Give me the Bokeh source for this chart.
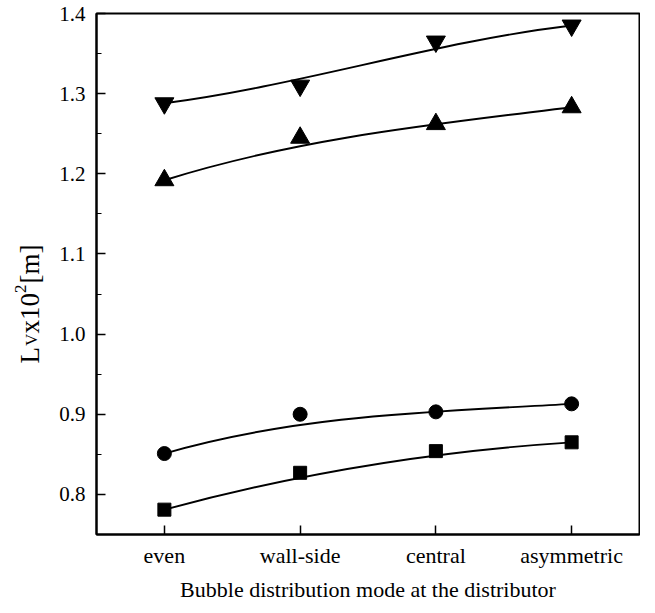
from bokeh.plotting import figure
from bokeh.models import FixedTicker, Range1d, PrintfTickFormatter
from bokeh.layouts import row
from bokeh.core.properties import value
from bokeh.embed import file_html
from bokeh.resources import INLINE
import math

categories = ["even", "wall-side", "central", "asymmetric"]
positions = [1, 2, 3, 4]
squares = [0.781, 0.827, 0.854, 0.865]
circles = [0.851, 0.900, 0.903, 0.913]
up_triangles = [1.192, 1.245, 1.262, 1.283]
down_triangles = [1.288, 1.310, 1.365, 1.385]
y_ticks = [0.8, 0.9, 1.0, 1.1, 1.2, 1.3, 1.4]

FONT = "Liberation Serif"
TOP, FRAME_H, BOTTOM = 13, 521, 62
TOTAL_H = TOP + FRAME_H + BOTTOM
LAB_W = 56

p = figure(frame_width=543, frame_height=FRAME_H, x_range=Range1d(0.5, 4.5), y_range=Range1d(0.75, 1.4),
           output_backend="svg", toolbar_location=None,
           min_border_left=38, min_border_top=TOP, min_border_right=1, min_border_bottom=BOTTOM)
p.xgrid.visible = False
p.ygrid.visible = False
p.outline_line_color = "black"
p.outline_line_width = 2

p.xaxis.ticker = FixedTicker(ticks=positions)
p.xaxis.major_label_overrides = dict(zip(positions, categories))
p.yaxis.ticker = FixedTicker(ticks=y_ticks, minor_ticks=[round(t - 0.05, 2) for t in y_ticks])
p.yaxis.formatter = PrintfTickFormatter(format="%.1f")

for ax in (p.xaxis[0], p.yaxis[0]):
    ax.axis_line_color = "black"
    ax.axis_line_width = 2
    ax.major_tick_in = 9
    ax.major_tick_out = 0
    ax.minor_tick_in = 5
    ax.minor_tick_out = 0
    ax.major_tick_line_color = "black"
    ax.major_tick_line_width = 1.5
    ax.minor_tick_line_color = "black"
    ax.minor_tick_line_width = 1.2
    ax.major_label_text_font = FONT
    ax.major_label_text_font_size = "22px"
    ax.major_label_text_color = "black"
    ax.axis_label_text_font = FONT
    ax.axis_label_text_font_size = "22px"
    ax.axis_label_text_font_style = "normal"
    ax.axis_label_text_color = "black"
p.xaxis.minor_tick_line_color = None
p.yaxis.major_label_text_font_size = "21px"
p.yaxis.major_label_standoff = 11
p.xaxis.major_label_standoff = 8
p.xaxis.axis_label = "Bubble distribution mode at the distributor"
p.xaxis.axis_label_standoff = 6

for vals, marker, size in [(squares, "square", 13), (circles, "circle", 14),
                           (up_triangles, "triangle", 19), (down_triangles, "inverted_triangle", 19)]:
    p.bezier(x0=[positions[0]], y0=[vals[0]], cx0=[positions[1]], cy0=[vals[1]],
             cx1=[positions[2]], cy1=[vals[2]], x1=[positions[3]], y1=[vals[3]],
             line_color="black", line_width=1.9)
    p.scatter(positions, vals, marker=marker, size=size, fill_color="black", line_color="black")

# panel holding the rotated y-axis title with subscript and superscript
lab = figure(frame_width=LAB_W, frame_height=TOTAL_H, x_range=Range1d(0, LAB_W), y_range=Range1d(0, TOTAL_H),
             output_backend="svg", toolbar_location=None, min_border=0)
lab.axis.visible = False
lab.grid.visible = False
lab.outline_line_color = None

# (text, font size, baseline shift, offset along the title)
pieces = [("L", "27px", 0, 0), ("V", "17px", 2, 17.5), ("x10", "27px", 0, 30),
          ("2", "17px", -9, 70.5), ("[m]", "27px", 0, 80)]
base_x = 29
start_y = 246
for txt, fs, dx, off in pieces:
    lab.text(x=[base_x + dx], y=[start_y + off], text=[txt], angle=math.pi / 2,
             text_font=value(FONT), text_font_size=fs, text_color="black",
             text_align="left", text_baseline="alphabetic")

layout = row(lab, p, spacing=0)
open("out.html", "w").write(file_html(layout, INLINE))
